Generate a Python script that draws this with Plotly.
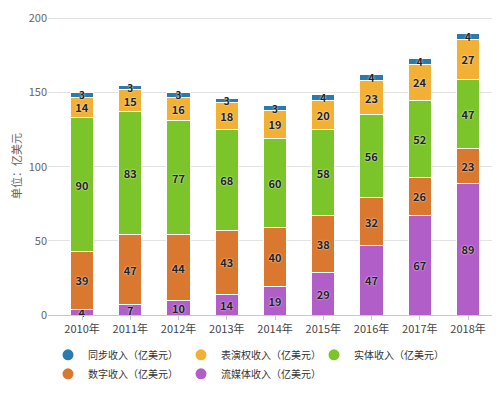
import plotly.graph_objects as go

years = ["2010年", "2011年", "2012年", "2013年", "2014年", "2015年", "2016年", "2017年", "2018年"]
streaming = [4, 7, 10, 14, 19, 29, 47, 67, 89]
digital = [39, 47, 44, 43, 40, 38, 32, 26, 23]
physical = [90, 83, 77, 68, 60, 58, 56, 52, 47]
performance = [14, 15, 16, 18, 19, 20, 23, 24, 27]
sync = [3, 3, 3, 3, 3, 4, 4, 4, 4]

series = [
    ("流媒体收入（亿美元）", streaming, "#b15ec8", 5, 11),
    ("数字收入（亿美元）", digital, "#d9782e", 4, 11),
    ("实体收入（亿美元）", physical, "#7bc42a", 3, 11),
    ("表演权收入（亿美元）", performance, "#f2b035", 2, 11),
    ("同步收入（亿美元）", sync, "#2a7ab0", 1, 10),
]

FONT = "Noto Sans CJK SC, Noto Sans, sans-serif"
fig = go.Figure()
xi = list(range(len(years)))
for name, vals, color, rank, tsize in series:
    fig.add_trace(go.Bar(
        x=xi, y=vals, name=name, showlegend=False,
        marker=dict(color=color, line=dict(color="#ffffff", width=1)),
        width=0.48,
        text=[str(v) for v in vals], textposition="inside",
        insidetextanchor="middle", constraintext="none",
        textfont=dict(size=tsize, color="#222222", family=FONT, weight="bold",
                      shadow="0px 0px 2px #ffffff"),
        textangle=0, cliponaxis=False,
    ))
    fig.add_trace(go.Scatter(
        x=[None], y=[None], mode="markers", name=name,
        legendrank=rank, showlegend=True,
        marker=dict(color=color, size=11, symbol="circle"),
    ))

# the page body has an 8px default margin, so the figure is sized to fit the window
fig.update_layout(
    barmode="stack",
    width=492, height=394,
    margin=dict(l=40, r=8, t=9, b=87, autoexpand=False),
    paper_bgcolor="white", plot_bgcolor="white",
    font=dict(family=FONT, color="#333333", size=11),
    showlegend=True,
    legend=dict(orientation="h", x=0.0, xanchor="left", y=-0.085, yanchor="top",
                font=dict(size=10, color="#333333", family=FONT),
                entrywidth=88, entrywidthmode="pixels",
                itemwidth=30, traceorder="normal"),
    xaxis=dict(range=[-0.705, 8.497], tickmode="array", tickvals=xi, ticktext=years,
               showgrid=False, zeroline=False, showline=True, linecolor="#c8c8c8",
               linewidth=1, ticks="outside", ticklen=4, tickcolor="#c8c8c8",
               tickfont=dict(size=11, color="#444444")),
    yaxis=dict(range=[0, 201], tickvals=[0, 50, 100, 150, 200], showgrid=True,
               gridcolor="#e3e3e3", zeroline=False, showline=False,
               ticklabeloverflow="allow",
               tickfont=dict(size=11, color="#666666"),
               title=dict(text="单位：亿美元", font=dict(size=11, color="#666666"), standoff=7)),
)

fig.write_html("out.html")
